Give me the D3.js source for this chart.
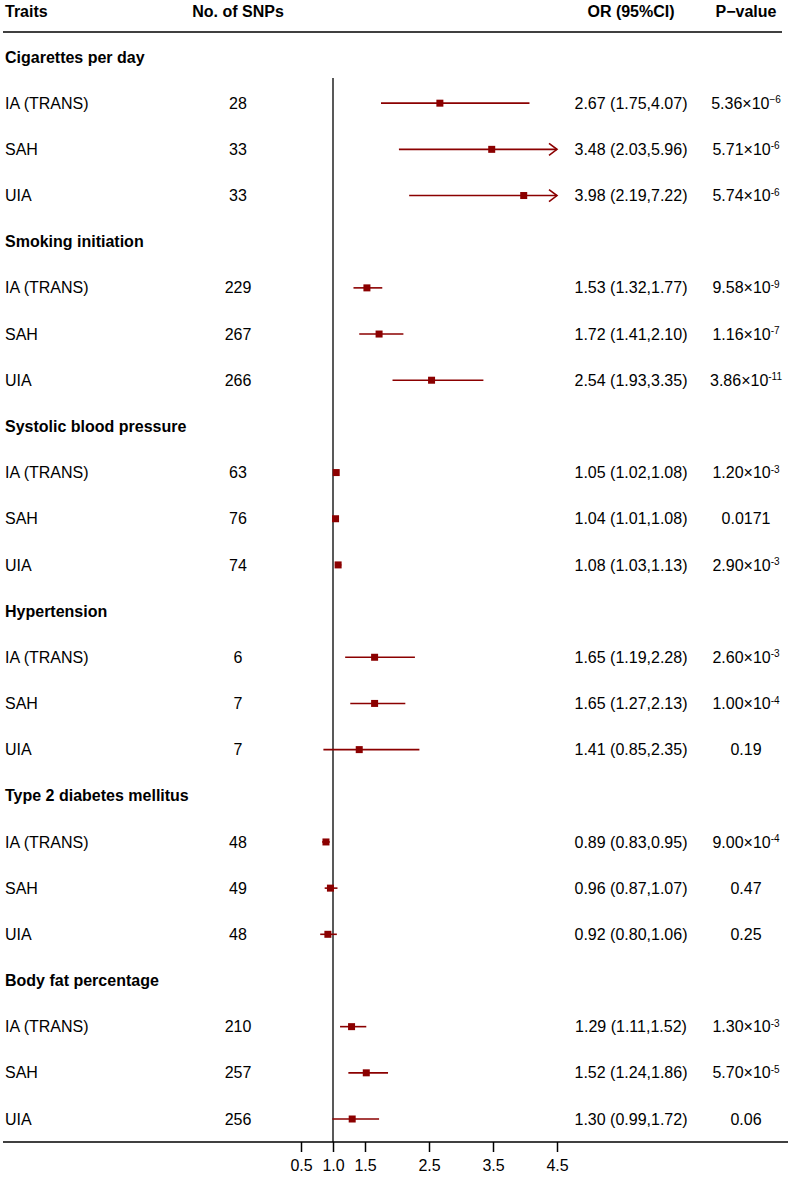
<!DOCTYPE html>
<head>
  <meta charset="UTF-8">
  <style>
    *{ margin: 0px; }
    body{ background: white; }
    svg{ font-family: "Liberation Sans", Arial, sans-serif; font-size: 16px; }
    .bold{ font-weight: bold; }
  </style>
  <script src="https://d3js.org/d3.v7.min.js"></script>
</head>
<body>
  <svg id="chart" width="791" height="1181"></svg>
  <script>
    // data
    var traits = ["Cigarettes per day", "Smoking initiation", "Systolic blood pressure",
      "Hypertension", "Type 2 diabetes mellitus", "Body fat percentage"];
    var outcomes = ["IA (TRANS)", "SAH", "UIA"];
    var nSnps = [28, 33, 33, 229, 267, 266, 63, 76, 74, 6, 7, 7, 48, 49, 48, 210, 257, 256];
    var orVals = [2.67, 3.48, 3.98, 1.53, 1.72, 2.54, 1.05, 1.04, 1.08, 1.65, 1.65, 1.41, 0.89, 0.96, 0.92, 1.29, 1.52, 1.30];
    var ciLow = [1.75, 2.03, 2.19, 1.32, 1.41, 1.93, 1.02, 1.01, 1.03, 1.19, 1.27, 0.85, 0.83, 0.87, 0.80, 1.11, 1.24, 0.99];
    var ciHigh = [4.07, 5.96, 7.22, 1.77, 2.10, 3.35, 1.08, 1.08, 1.13, 2.28, 2.13, 2.35, 0.95, 1.07, 1.06, 1.52, 1.86, 1.72];
    var pMant = ["5.36", "5.71", "5.74", "9.58", "1.16", "3.86", "1.20", "0.0171", "2.90", "2.60", "1.00", "0.19", "9.00", "0.47", "0.25", "1.30", "5.70", "0.06"];
    var pExp = ["\u22126", "-6", "-6", "-9", "-7", "-11", "-3", null, "-3", "-3", "-4", null, "-4", null, null, "-3", "-5", null];
    var tickVals = [0.5, 1.0, 1.5, 2.5, 3.5, 4.5];

    var svg = d3.select("#chart");
    var red = "#8b0000";
    var f2 = d3.format(".2f");

    // build row list: group header followed by its three outcomes
    var rows = [];
    traits.forEach(function(t, g){
      rows.push({type: "head", label: t});
      outcomes.forEach(function(o, k){
        var i = g * 3 + k;
        rows.push({type: "row", label: o, n: nSnps[i], or: orVals[i], lo: ciLow[i], hi: ciHigh[i],
          pm: pMant[i], pe: pExp[i]});
      });
    });

    var y = d3.scalePoint().domain(d3.range(rows.length)).range([57, 1119]);
    var x = d3.scaleLinear().domain([0.5, 4.5]).range([301, 557]);

    var colTrait = 5, colSnp = 238, colOr = 631, colP = 746;

    // header
    var head = svg.append("g");
    head.append("text").attr("class", "bold").attr("x", colTrait).attr("y", 11).attr("dy", "0.35em").text("Traits");
    head.append("text").attr("class", "bold").attr("x", colSnp).attr("y", 11).attr("dy", "0.35em")
      .attr("text-anchor", "middle").text("No. of SNPs");
    head.append("text").attr("class", "bold").attr("x", colOr).attr("y", 11).attr("dy", "0.35em")
      .attr("text-anchor", "middle").text("OR (95%CI)");
    head.append("text").attr("class", "bold").attr("x", colP).attr("y", 11).attr("dy", "0.35em")
      .attr("text-anchor", "middle").text("P\u2212value");
    svg.append("line").attr("x1", 3).attr("x2", 782).attr("y1", 32).attr("y2", 32)
      .attr("stroke", "black").attr("stroke-width", 1.6);

    // reference line at OR = 1
    svg.append("line").attr("x1", x(1)).attr("x2", x(1)).attr("y1", 78).attr("y2", 1142)
      .attr("stroke", "#222").attr("stroke-width", 1.5);

    var g = svg.selectAll("g.r").data(rows).enter().append("g").attr("class", "r")
      .attr("transform", (d, i) => "translate(0," + y(i) + ")");

    g.append("text").attr("x", colTrait).attr("dy", "0.35em")
      .attr("class", d => d.type === "head" ? "bold" : null).text(d => d.label);

    var r = g.filter(d => d.type === "row");
    r.append("text").attr("x", colSnp).attr("dy", "0.35em").attr("text-anchor", "middle").text(d => d.n);
    r.append("text").attr("x", colOr).attr("dy", "0.35em").attr("text-anchor", "middle")
      .text(d => f2(d.or) + " (" + f2(d.lo) + "," + f2(d.hi) + ")");
    var pt = r.append("text").attr("x", colP).attr("dy", "0.35em").attr("text-anchor", "middle");
    pt.each(function(d){
      var t = d3.select(this);
      if(d.pe === null){
        t.text(d.pm);
      } else {
        t.append("tspan").text(d.pm + "\u00d710");
        t.append("tspan").attr("font-size", "10px").attr("dy", "-0.55em").text(d.pe);
      }
    });

    // CI lines, clipped at axis limit with an arrow
    var xMax = x.domain()[1];
    r.append("line").attr("x1", d => x(d.lo)).attr("x2", d => x(Math.min(d.hi, xMax)))
      .attr("stroke", red).attr("stroke-width", 1.6);
    r.filter(d => d.hi > xMax).append("path")
      .attr("d", "M" + (x(xMax) - 8) + ",-6 L" + x(xMax) + ",0 L" + (x(xMax) - 8) + ",6")
      .attr("fill", "none").attr("stroke", red).attr("stroke-width", 1.6);
    r.append("rect").attr("x", d => x(d.or) - 3.5).attr("y", -3.5).attr("width", 7).attr("height", 7)
      .attr("fill", red);

    // bottom axis
    svg.append("line").attr("x1", 3).attr("x2", 788).attr("y1", 1142).attr("y2", 1142)
      .attr("stroke", "black").attr("stroke-width", 1.6);
    var ax = svg.append("g").attr("transform", "translate(0,1142)")
      .call(d3.axisBottom(x).tickValues(tickVals).tickSize(10).tickPadding(8).tickFormat(d3.format(".1f")));
    ax.select(".domain").remove();
    ax.selectAll("line").attr("stroke-width", 1.5);
    ax.selectAll("text").attr("font-size", "16px").attr("font-family", "Liberation Sans, Arial, sans-serif");
  </script>
</body>
